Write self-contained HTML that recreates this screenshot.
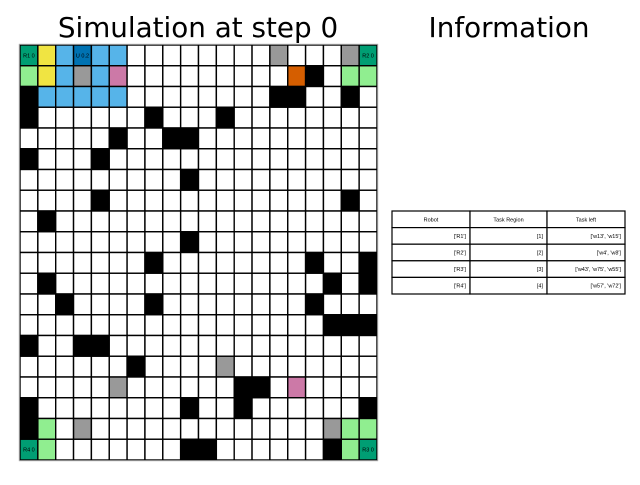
<!DOCTYPE html>
<html><head><meta charset="utf-8"><style>
body{margin:0;background:#fff;width:640px;height:480px;overflow:hidden;font-family:"Liberation Sans","DejaVu Sans",sans-serif}
</style></head><body>
<svg id="s" width="640" height="480" xmlns="http://www.w3.org/2000/svg">
<text x="198" y="37" font-size="27.8" text-anchor="middle" font-family="DejaVu Sans,Liberation Sans,sans-serif">Simulation at step 0</text>
<text x="509" y="37" font-size="27.8" text-anchor="middle" font-family="DejaVu Sans,Liberation Sans,sans-serif">Information</text>
<g id="grid"></g>
<g id="tbl"></g>
</svg>
<script>
const blackCells=[[1,16],[2,0],[2,14],[2,15],[2,18],[3,0],[3,7],[3,11],[4,5],[4,8],[4,9],[5,0],[5,4],[6,9],[7,4],[7,18],[8,1],[9,9],[10,7],[10,16],[10,19],[11,1],[11,17],[11,19],[12,2],[12,7],[12,16],[13,17],[13,18],[13,19],[14,0],[14,3],[14,4],[15,6],[16,12],[16,13],[17,0],[17,9],[17,12],[17,19],[18,0],[19,9],[19,10],[19,17]];
const colorCells=[[0,0,'#009e73'],[0,1,'#f0e442'],[0,2,'#56b4e9'],[0,3,'#0072b2'],[0,4,'#56b4e9'],[0,5,'#56b4e9'],[0,14,'#999999'],[0,18,'#999999'],[0,19,'#009e73'],
[1,0,'#90ee90'],[1,1,'#f0e442'],[1,2,'#56b4e9'],[1,3,'#999999'],[1,4,'#56b4e9'],[1,5,'#cc79a7'],[1,15,'#d55e00'],[1,18,'#90ee90'],[1,19,'#90ee90'],
[2,1,'#56b4e9'],[2,2,'#56b4e9'],[2,3,'#56b4e9'],[2,4,'#56b4e9'],[2,5,'#56b4e9'],
[15,11,'#999999'],[16,5,'#999999'],[16,15,'#cc79a7'],[18,1,'#90ee90'],[18,3,'#999999'],[18,17,'#999999'],[18,18,'#90ee90'],[18,19,'#90ee90'],
[19,0,'#009e73'],[19,1,'#90ee90'],[19,18,'#90ee90'],[19,19,'#009e73']];
const cellLabels=[[0,0,'R1 0'],[0,3,'U 0.2'],[0,19,'R2 0'],[19,0,'R4 0'],[19,19,'R3 0']];
const tableHeader=['Robot','Task Region','Task left'];
const robots=["['R1']","['R2']","['R3']","['R4']"];
const regions=['[1]','[2]','[3]','[4]'];
const tasksLeft=["['w13', 'w15']","['w4', 'w8']","['w43', 'w75', 'w55']","['w57', 'w72']"];

const NS='http://www.w3.org/2000/svg';
const N=20,X0=20,Y0=45,W=357,H=415;
const cx=c=>X0+c*W/N, cy=r=>Y0+r*H/N;
const g=document.getElementById('grid');
function mk(tag,attrs,parent){const e=document.createElementNS(NS,tag);for(const k in attrs)e.setAttribute(k,attrs[k]);parent.appendChild(e);return e;}
const fill={};
blackCells.forEach(([r,c])=>fill[r+','+c]='#000');
colorCells.forEach(([r,c,col])=>fill[r+','+c]=col);
for(let r=0;r<N;r++)for(let c=0;c<N;c++){
  const e=mk('rect',{x:cx(c),y:cy(r),width:W/N,height:H/N,fill:fill[r+','+c]||'#fff',stroke:'#000','stroke-width':1.4},g);
  
  
}
mk('rect',{x:X0-0.7,y:Y0-0.7,width:W+1.4,height:H+1.4,fill:'none',stroke:'#aaa','stroke-width':1},g);
cellLabels.forEach(([r,c,t])=>{
  const e=mk('text',{x:cx(c)+W/N/2,y:cy(r)+H/N/2+2,'font-size':5.5,'text-anchor':'middle',fill:'#000'},g);
  e.textContent=t;
  
  
});
const t=document.getElementById('tbl');
const TX=[392,470,547,625],TY0=211,RH=16.6;
const rows=[tableHeader].concat(robots.map((r,i)=>[r,regions[i],tasksLeft[i]]));
rows.forEach((row,i)=>{
  row.forEach((v,j)=>{
    const e=mk('rect',{x:TX[j],y:TY0+i*RH,width:TX[j+1]-TX[j],height:RH,fill:'#fff',stroke:'#000','stroke-width':1.2},t);
    
    
    const hdr=i===0;
    const tx=mk('text',{x:hdr?(TX[j]+TX[j+1])/2:TX[j+1]-4,y:TY0+i*RH+RH/2+2,'font-size':5.5,'text-anchor':hdr?'middle':'end',fill:'#000'},t);
    tx.textContent=v;
    
    
  });
});
</script>
</body></html>
